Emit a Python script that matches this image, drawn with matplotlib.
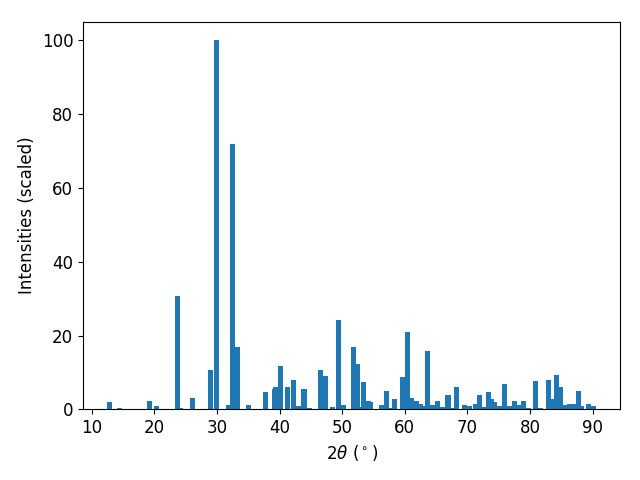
import matplotlib
matplotlib.use('Agg')
from matplotlib import pyplot as plt

plt.rcParams['font.size'] = 12

# peak positions (2 theta, degrees) and scaled intensities
two_theta = [12.9, 14.4, 19.3, 20.3, 23.65, 24.2, 26.05, 28.9, 29.85, 30.0,
             31.8, 32.4, 33.2, 35.0, 37.7, 39.2, 39.4, 40.1, 41.2, 42.2,
             43.1, 43.9, 44.7, 46.5, 47.3, 48.4, 49.4, 50.2, 51.75, 52.4,
             52.8, 53.35, 54.15, 54.6, 56.2, 57.0, 57.7, 58.3, 59.7, 60.4,
             61.0, 61.8, 62.5, 63.0, 63.2, 63.7, 64.5, 65.2, 66.1, 66.9,
             67.6, 68.2, 69.6, 70.3, 71.3, 72.0, 72.7, 73.3, 73.9, 74.3,
             74.6, 75.4, 76.0, 76.8, 77.6, 78.3, 78.9, 79.8, 80.8, 81.6,
             82.9, 83.5, 84.2, 84.8, 85.2, 85.6, 86.3, 86.9, 87.7, 88.3,
             89.4, 90.1]
intensity = [1.9, 0.3, 2.2, 0.8, 30.6, 0.3, 3.0, 10.6, 38.6, 100.0,
             1.2, 71.8, 17.0, 1.2, 4.6, 5.6, 6.0, 11.7, 6.0, 8.1,
             0.8, 5.4, 0.3, 10.6, 9.0, 0.6, 24.1, 1.1, 16.8, 12.2,
             0.6, 7.3, 2.2, 1.9, 1.1, 5.1, 0.3, 2.7, 8.9, 21.1,
             3.0, 2.4, 1.4, 0.3, 0.8, 15.7, 1.1, 2.2, 0.6, 3.8,
             0.3, 6.0, 1.1, 0.8, 1.4, 3.8, 0.6, 4.6, 2.7, 1.9,
             0.8, 0.8, 6.8, 0.8, 2.2, 1.1, 2.2, 0.3, 7.6, 0.3,
             8.1, 2.7, 9.2, 6.0, 1.1, 1.1, 1.4, 1.6, 4.9, 0.8,
             1.6, 0.8]

fig, ax = plt.subplots(figsize=(6.4, 4.8), dpi=100)
ax.bar(two_theta, intensity, width=0.8, color='#1f77b4')
ax.set_xlabel(r'$2\theta$ ($^\circ$)')
ax.set_ylabel('Intensities (scaled)')
ax.set_xticks([10, 20, 30, 40, 50, 60, 70, 80, 90])
fig.subplots_adjust(left=0.1297, right=0.969, bottom=0.147, top=0.955)
fig.savefig('out.png')
